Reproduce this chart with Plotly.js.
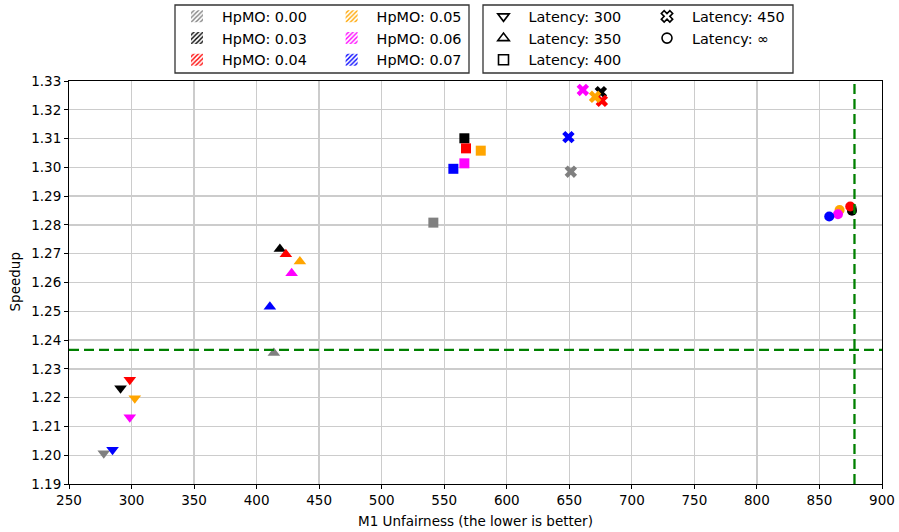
<!DOCTYPE html>
<html>
<head>
<meta charset="utf-8">
<script src="https://cdn.plot.ly/plotly-3.0.1.min.js"></script>
<style>html,body{margin:0;padding:0;background:#fff;}#chart{width:899px;height:532px;}</style>
</head>
<body>
<div id="chart"></div>
<script>
// ---- data ----
const hpmoLabels = ['HpMO: 0.00','HpMO: 0.03','HpMO: 0.04','HpMO: 0.05','HpMO: 0.06','HpMO: 0.07'];
const hpmoColors = ['gray','black','red','orange','magenta','blue'];
const latencyLabels = ['Latency: 300','Latency: 350','Latency: 400','Latency: 450','Latency: \u221e'];
const latencySymbols = ['triangle-down','triangle-up','square','x','circle'];

// unfairness per HpMO, ordered by latency 300,350,400,450,inf
const unfairGray    = [277.8, 413.8, 541.3, 651.2, 876.0];
const unfairBlack   = [291.2, 418.6, 566.1, 675.2, 876.0];
const unfairRed     = [298.6, 423.4, 567.4, 676.0, 874.6];
const unfairOrange  = [302.6, 434.6, 579.2, 670.6, 866.1];
const unfairMagenta = [298.6, 428.0, 566.1, 660.8, 864.8];
const unfairBlue    = [284.8, 410.6, 557.3, 649.3, 857.8];

const speedGray    = [1.2007, 1.2355, 1.2808, 1.2985, 1.2858];
const speedBlack   = [1.2233, 1.2716, 1.3101, 1.3261, 1.2849];
const speedRed     = [1.2262, 1.2698, 1.3066, 1.3231, 1.2864];
const speedOrange  = [1.2198, 1.2673, 1.3058, 1.3245, 1.2852];
const speedMagenta = [1.2132, 1.2632, 1.3014, 1.3269, 1.2837];
const speedBlue    = [1.2019, 1.2516, 1.2995, 1.3105, 1.2829];

const baselineSpeedup = 1.2366;
const baselineUnfairness = 878;

const xTitle = 'M1 Unfairness (the lower is better)';
const yTitle = 'Speedup';
const xTicks = [250,300,350,400,450,500,550,600,650,700,750,800,850,900];
const yTicks = [1.19,1.20,1.21,1.22,1.23,1.24,1.25,1.26,1.27,1.28,1.29,1.30,1.31,1.32,1.33];

// ---- traces ----
const unfairAll = [unfairGray, unfairBlack, unfairRed, unfairOrange, unfairMagenta, unfairBlue];
const speedAll = [speedGray, speedBlack, speedRed, speedOrange, speedMagenta, speedBlue];
const FONT = 'DejaVu Sans, Liberation Sans, sans-serif';

const traces = [];
for (let i = 0; i < hpmoLabels.length; i++) {
  traces.push({
    type: 'scatter', mode: 'markers',
    x: unfairAll[i], y: speedAll[i],
    showlegend: false, hoverinfo: 'x+y',
    marker: {color: hpmoColors[i], symbol: latencySymbols, size: [11,11,10,11,10], opacity: 1, line: {width: 0}}
  });
}
// baseline lines
traces.push({type:'scatter', mode:'lines', x:[xTicks[0], xTicks[xTicks.length-1]], y:[baselineSpeedup, baselineSpeedup],
  showlegend:false, hoverinfo:'skip', line:{color:'green', width:2.3, dash:'10px,5px'}});
traces.push({type:'scatter', mode:'lines', x:[baselineUnfairness, baselineUnfairness], y:[yTicks[0], yTicks[yTicks.length-1]],
  showlegend:false, hoverinfo:'skip', line:{color:'green', width:2.3, dash:'10px,5px'}});

// legend entries: HpMO (hatched patches)
const hpmoLegendIds = ['legend','legend','legend','legend2','legend2','legend2'];
for (let i = 0; i < hpmoLabels.length; i++) {
  traces.push({
    type: 'bar', x: [null], y: [null], name: hpmoLabels[i],
    legend: hpmoLegendIds[i], hoverinfo: 'skip',
    marker: {color: 'rgba(255,255,255,0)', line: {width: 0},
      pattern: {shape: '/', fgcolor: hpmoColors[i], bgcolor: 'rgba(255,255,255,0)', size: 4, solidity: 0.45}}
  });
}
// legend entries: latency (open black markers)
const latLegendIds = ['legend3','legend3','legend3','legend4','legend4'];
const openSymbols = latencySymbols.map(s => s + '-open');
for (let i = 0; i < latencyLabels.length; i++) {
  traces.push({
    type: 'scatter', mode: 'markers', x: [null], y: [null], name: latencyLabels[i],
    legend: latLegendIds[i], hoverinfo: 'skip',
    marker: {color: 'black', symbol: openSymbols[i], size: 10, line: {width: 1.6, color: 'black'}}
  });
}

const W = 899, H = 532, ML = 69, MR = 17, MT = 81, MB = 48;
const PW = W - ML - MR, PH = H - MT - MB;
const px = v => (v - ML) / PW;
const py = v => (H - MB - v) / PH;

function legendAt(xpx, ypx) {
  return {x: xpx / W, y: 1 - ypx / H, xref: 'container', yref: 'container', xanchor: 'left', yanchor: 'top',
    bgcolor: 'rgba(0,0,0,0)', borderwidth: 0, tracegroupgap: 0, itemwidth: 40,
    font: {family: FONT, size: 14.4, color: '#000'},
    itemclick: false, itemdoubleclick: false};
}

const layout = {
  width: W, height: H,
  margin: {l: ML, r: MR, t: MT, b: MB, pad: 0, autoexpand: false},
  paper_bgcolor: '#fff', plot_bgcolor: '#fff',
  font: {family: FONT, size: 13.5, color: '#000'},
  xaxis: {
    range: [xTicks[0], xTicks[xTicks.length-1]], tickvals: xTicks, ticktext: xTicks.map(String),
    showgrid: true, gridcolor: '#cccccc', gridwidth: 1.3, zeroline: false, automargin: true,
    showline: true, mirror: true, linecolor: '#000', linewidth: 1,
    ticks: 'outside', ticklen: 4, tickcolor: '#000', tickfont: {family: FONT, size: 13.5, color: '#000'},
    title: {text: xTitle, font: {family: FONT, size: 13.5, color: '#000'}, standoff: 9}
  },
  yaxis: {
    range: [yTicks[0], yTicks[yTicks.length-1]], tickvals: yTicks, ticktext: yTicks.map(v => v.toFixed(2)),
    showgrid: true, gridcolor: '#cccccc', gridwidth: 1.3, zeroline: false, automargin: false,
    showline: true, mirror: true, linecolor: '#000', linewidth: 1,
    ticks: 'outside', ticklen: 4, tickcolor: '#000', tickfont: {family: FONT, size: 13.5, color: '#000'}
  },
  annotations: [
    {text: yTitle, xref: 'paper', yref: 'paper', x: px(14), y: 0.5, xanchor: 'center', yanchor: 'middle',
      textangle: -90, showarrow: false, font: {family: FONT, size: 13.5, color: '#000'}}
  ],
  showlegend: true,
  legend: legendAt(172, 0.5),
  legend2: legendAt(326.6, 0.5),
  legend3: legendAt(478.5, 0.5),
  legend4: legendAt(642, 0.5),
  shapes: [
    {type: 'rect', xref: 'paper', yref: 'paper', x0: px(175), x1: px(469), y0: py(73), y1: py(5),
      line: {color: '#333', width: 1.3}, fillcolor: 'rgba(0,0,0,0)'},
    {type: 'rect', xref: 'paper', yref: 'paper', x0: px(483), x1: px(793), y0: py(73), y1: py(5),
      line: {color: '#333', width: 1.3}, fillcolor: 'rgba(0,0,0,0)'}
  ]
};

Plotly.newPlot('chart', traces, layout, {displayModeBar: false, staticPlot: true});
</script>
</body>
</html>
